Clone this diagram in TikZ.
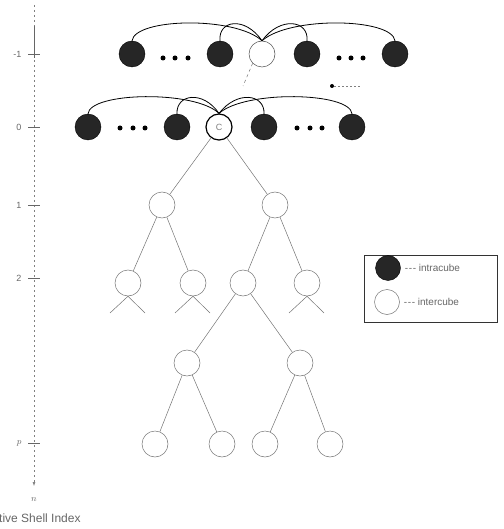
\documentclass[tikz,border=0pt]{standalone}
\usepackage{fontspec}
\setmainfont{Liberation Sans}
\usetikzlibrary{arrows.meta}
\newcommand{\tdash}{\mbox{-}\hspace{0.6pt}\mbox{-}\hspace{0.6pt}\mbox{-}}
\begin{document}
\begin{tikzpicture}[x=1pt,y=-1pt,
  dark/.style={circle, minimum size=26pt, inner sep=0pt, fill=black!85, draw=black},
  light/.style={circle, minimum size=26pt, inner sep=0pt, draw=black!55, line width=0.5pt},
  cnode/.style={circle, minimum size=26pt, inner sep=0pt, draw=black, line width=1.2pt, font=\small, text=black!50},
  tedge/.style={draw=black!55, line width=0.5pt},
  arcl/.style={draw=black, line width=0.8pt},
  ddot/.style={circle, fill=black, inner sep=0pt, minimum size=5pt},
  lbl/.style={font=\fontsize{9}{10}\selectfont, text=black!60},
  leglbl/.style={font=\fontsize{10}{12}\selectfont, text=black!60, inner sep=2pt},
  tick/.style={draw=black!60, line width=0.6pt}]
\useasboundingbox (0,0) rectangle (503,529);
% axis
\coordinate (ax0) at (34,5);
\coordinate (ax1) at (34,486);
\draw[black!50, line width=0.5pt, dash pattern=on 2pt off 3pt, -{Latex[length=4pt,width=3pt]}] (ax0) -- (ax1);
\draw[black!60, line width=0.6pt] (34,26) -- (34,58);
\foreach \yy/\tt in {54/{-1},127/{0},205/{1},278/{2},443/{$p$}}{
  \draw[tick] (28,\yy) -- (40,\yy);
  \node[lbl, anchor=east] at (25,\yy) {\tt};
}
\node[lbl] (nlab) at (34,500) {$n$};
\node[font=\fontsize{12}{14}\selectfont, text=black!60, inner sep=2pt, anchor=west] (axlab) at (-3,518) {tive Shell Index};
% level -1
\node[dark] (a1) at (132,54) {};
\node[dark] (a2) at (220,54) {};
\node[light, draw=black!70] (w1) at (262,54) {};
\node[dark] (a3) at (307,54) {};
\node[dark] (a4) at (395,54) {};
\foreach \xx in {163,175,188,339,351,363}{\node[ddot] at (\xx,58) {};}
\draw[arcl] (a1.north) .. controls (135,18) and (235,16) .. (w1.north);
\draw[arcl] (a2.north) .. controls (218,20) and (245,16) .. (w1.north);
\draw[arcl] (a3.north) .. controls (309,20) and (280,16) .. (w1.north);
\draw[arcl] (a4.north) .. controls (392,18) and (290,16) .. (w1.north);
\coordinate (wend) at (243,86);
\draw[tedge, dashed] (w1.south west) -- (wend);
% small mark
\node[circle, fill=black, inner sep=0pt, minimum size=4pt] (mk) at (332,86) {};
\coordinate (mkend) at (360,86);
\draw[black!50, line width=0.4pt, dash pattern=on 2pt off 2pt] (mk) -- (mkend);
% level 0
\node[dark] (b1) at (88,127) {};
\node[dark] (b2) at (177,127) {};
\node[cnode] (c) at (219,127) {C};
\node[dark] (b3) at (264,127) {};
\node[dark] (b4) at (352,127) {};
\foreach \xx in {120,133,145,297,310,322}{\node[ddot] at (\xx,128) {};}
\draw[arcl] (b1.north) .. controls (90,92) and (195,90) .. (c.north);
\draw[arcl] (b2.north) .. controls (176,94) and (203,90) .. (c.north);
\draw[arcl] (b3.north) .. controls (265,94) and (237,90) .. (c.north);
\draw[arcl] (b4.north) .. controls (350,92) and (245,90) .. (c.north);
% tree
\node[light] (l1a) at (162,205) {};
\node[light] (l1b) at (275,205) {};
\node[light] (l2a) at (128,283) {};
\node[light] (l2b) at (193,283) {};
\node[light] (l2c) at (243,283) {};
\node[light] (l2d) at (307,283) {};
\node[light] (l3a) at (187,363) {};
\node[light] (l3b) at (300,363) {};
\node[light] (l4a) at (155,444) {};
\node[light] (l4b) at (222,444) {};
\node[light] (l4c) at (265,444) {};
\node[light] (l4d) at (330,444) {};
\draw[tedge] (c) -- (l1a);
\draw[tedge] (c) -- (l1b);
\draw[tedge] (l1a) -- (l2a);
\draw[tedge] (l1a) -- (l2b);
\draw[tedge] (l1b) -- (l2c);
\draw[tedge] (l1b) -- (l2d);
\draw[tedge] (l2c) -- (l3a);
\draw[tedge] (l2c) -- (l3b);
\draw[tedge] (l3a) -- (l4a);
\draw[tedge] (l3a) -- (l4b);
\draw[tedge] (l3b) -- (l4c);
\draw[tedge] (l3b) -- (l4d);
% stubs
\foreach \n/\xx in {l2a/128,l2b/193,l2d/307}{
  \coordinate (\n L) at (\xx-18,313);
  \coordinate (\n R) at (\xx+17,313);
  \draw[tedge] (\n.south) -- (\n L);
  \draw[tedge] (\n.south) -- (\n R);
}
% legend
\node[draw=black!80, line width=0.6pt, minimum width=133pt, minimum height=67pt, inner sep=0pt] (leg) at (430.5,288.5) {};
\node[dark, minimum size=25pt] (ld) at (388,268) {};
\node[light, minimum size=25pt] (ll) at (387,302) {};
\node[leglbl, anchor=west] (lt1) at ([xshift=2pt]ld.east) {\tdash\ intracube};
\node[leglbl, anchor=west] (lt2) at ([xshift=2pt]ll.east) {\tdash\ intercube};
\end{tikzpicture}
\end{document}
